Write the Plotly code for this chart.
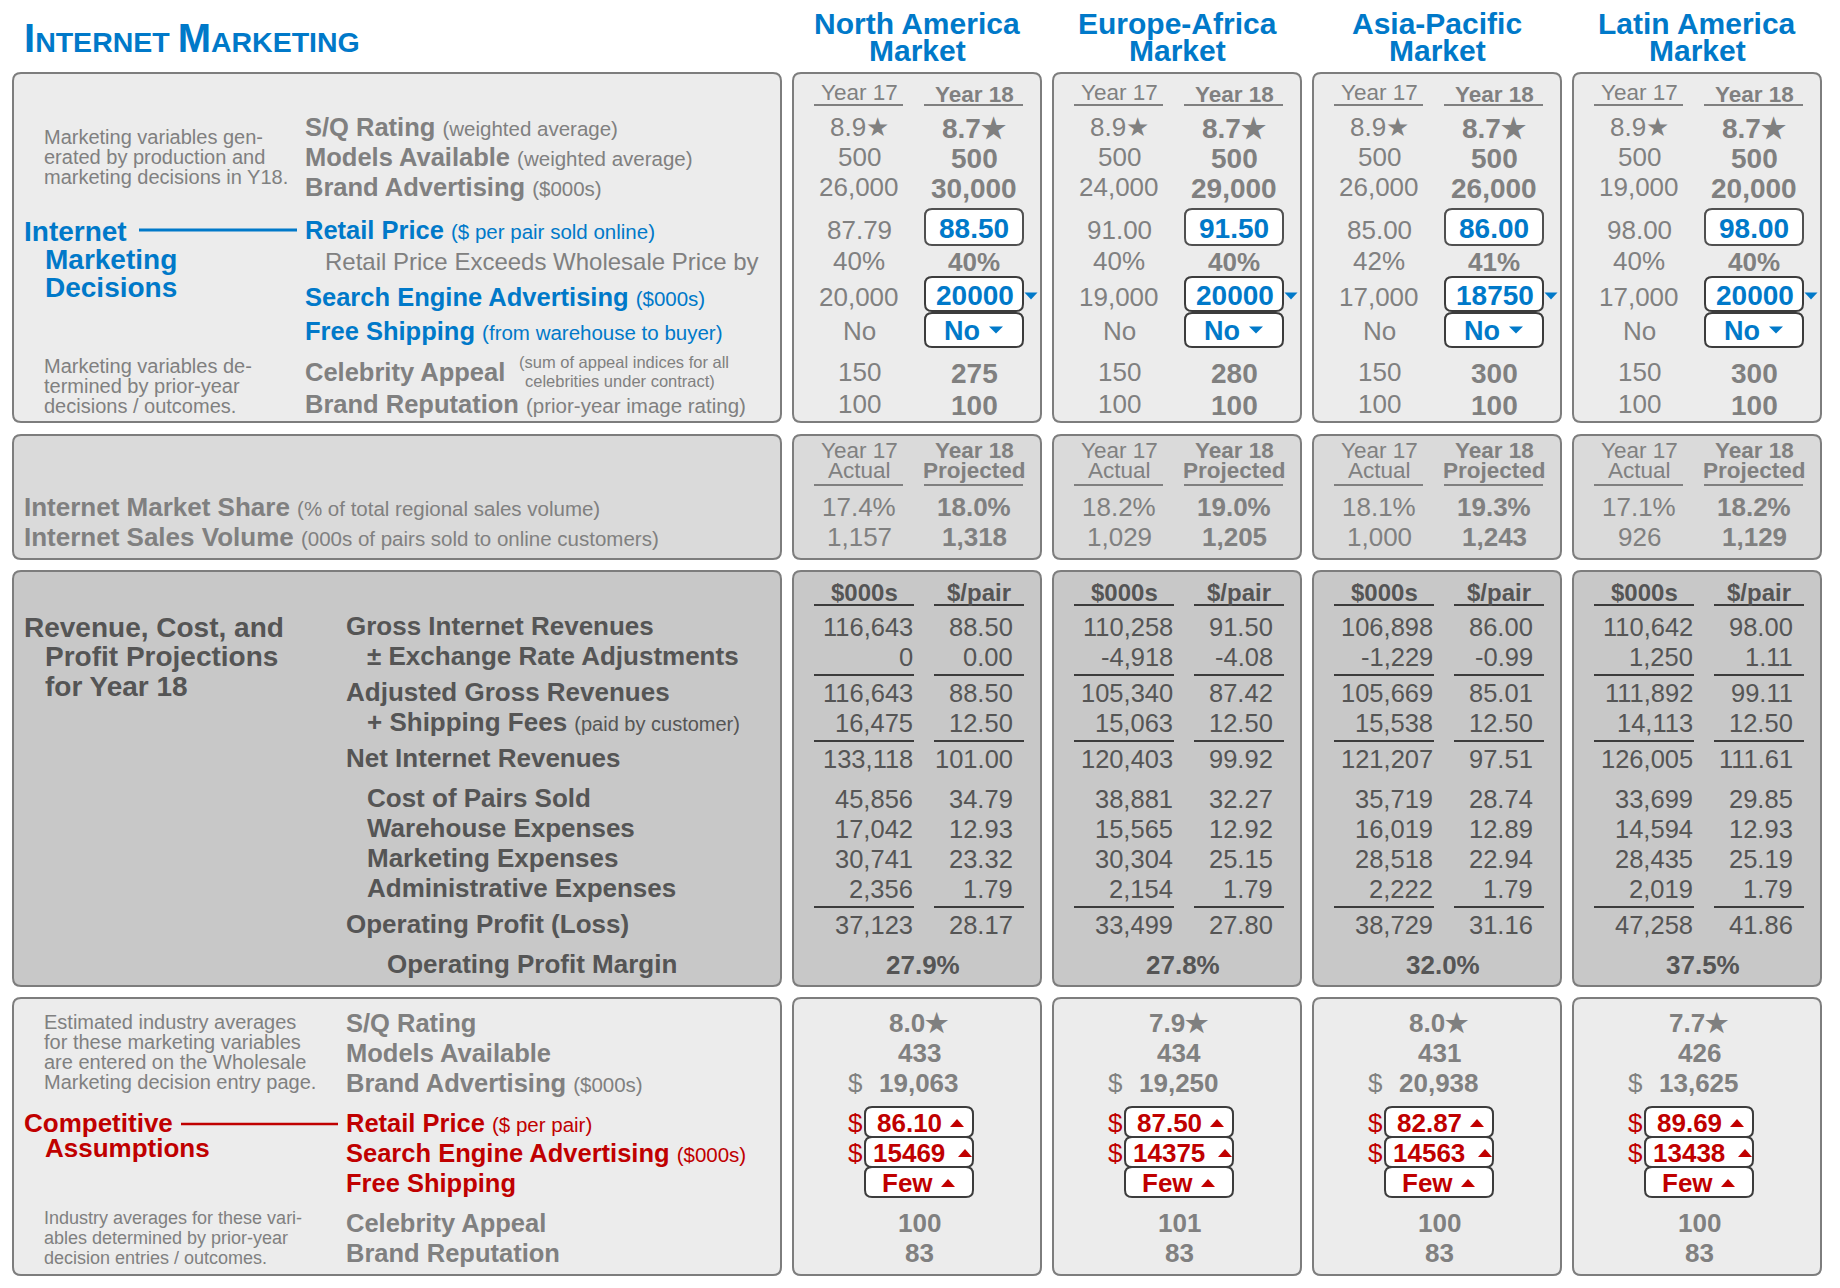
import plotly.graph_objects as go

# ---------------- data ----------------
markets = ["North America", "Europe-Africa", "Asia-Pacific", "Latin America"]

sq_rating_y17 = [8.9, 8.9, 8.9, 8.9]
sq_rating_y18 = [8.7, 8.7, 8.7, 8.7]
models_y17 = [500, 500, 500, 500]
models_y18 = [500, 500, 500, 500]
brand_adv_y17 = [26000, 24000, 26000, 19000]
brand_adv_y18 = [30000, 29000, 26000, 20000]
retail_price_y17 = [87.79, 91.00, 85.00, 98.00]
retail_price_y18 = [88.50, 91.50, 86.00, 98.00]
markup_y17 = [40, 40, 42, 40]
markup_y18 = [40, 40, 41, 40]
search_adv_y17 = [20000, 19000, 17000, 17000]
search_adv_y18 = [20000, 20000, 18750, 20000]
free_ship_y17 = ["No", "No", "No", "No"]
free_ship_y18 = ["No", "No", "No", "No"]
celebrity_y17 = [150, 150, 150, 150]
celebrity_y18 = [275, 280, 300, 300]
reputation_y17 = [100, 100, 100, 100]
reputation_y18 = [100, 100, 100, 100]

share_y17 = [17.4, 18.2, 18.1, 17.1]
share_y18 = [18.0, 19.0, 19.3, 18.2]
volume_y17 = [1157, 1029, 1000, 926]
volume_y18 = [1318, 1205, 1243, 1129]

pl_labels = ["Gross Internet Revenues", "± Exchange Rate Adjustments",
             "Adjusted Gross Revenues",
             "+ Shipping Fees <span style='font-size:20px;font-weight:normal'>(paid by customer)</span>",
             "Net Internet Revenues", "Cost of Pairs Sold", "Warehouse Expenses",
             "Marketing Expenses", "Administrative Expenses", "Operating Profit (Loss)"]
gross_k = [116643, 110258, 106898, 110642]
gross_p = [88.50, 91.50, 86.00, 98.00]
fx_k = [0, -4918, -1229, 1250]
fx_p = [0.00, -4.08, -0.99, 1.11]
adj_k = [116643, 105340, 105669, 111892]
adj_p = [88.50, 87.42, 85.01, 99.11]
shipfee_k = [16475, 15063, 15538, 14113]
shipfee_p = [12.50, 12.50, 12.50, 12.50]
net_k = [133118, 120403, 121207, 126005]
net_p = [101.00, 99.92, 97.51, 111.61]
cost_k = [45856, 38881, 35719, 33699]
cost_p = [34.79, 32.27, 28.74, 29.85]
warehouse_k = [17042, 15565, 16019, 14594]
warehouse_p = [12.93, 12.92, 12.89, 12.93]
marketing_k = [30741, 30304, 28518, 28435]
marketing_p = [23.32, 25.15, 22.94, 25.19]
admin_k = [2356, 2154, 2222, 2019]
admin_p = [1.79, 1.79, 1.79, 1.79]
profit_k = [37123, 33499, 38729, 47258]
profit_p = [28.17, 27.80, 31.16, 41.86]
profit_margin = [27.9, 27.8, 32.0, 37.5]

ind_sq = [8.0, 7.9, 8.0, 7.7]
ind_models = [433, 434, 431, 426]
ind_brand = [19063, 19250, 20938, 13625]
ind_price = [86.10, 87.50, 82.87, 89.69]
ind_search = [15469, 14375, 14563, 13438]
ind_ship = ["Few", "Few", "Few", "Few"]
ind_celebrity = [100, 101, 100, 100]
ind_reputation = [83, 83, 83, 83]

# ---------------- styling / layout ----------------
W, H = 1840, 1288
OFF = 8                                  # page body margin
FONT = "Liberation Sans, Arial, Helvetica, sans-serif"
GRAY = "rgb(128,128,128)"
DARK = "rgb(85,85,85)"
BLUE = "rgb(0,121,201)"
RED = "rgb(192,0,0)"
BORDER = "rgb(125,125,125)"

MX0, MSTEP, MW = 793, 260, 248          # market panels
LX0, LX1 = 13, 781                      # left label panels
P1, P2, P3, P4 = (73, 422), (435, 559), (571, 986), (998, 1275)

shapes, annots = [], []


def txt(x, y, s, size=25.5, color=GRAY, anchor="left", bold=False):
    if bold:
        s = "<b>%s</b>" % s
    annots.append(dict(x=x, y=y, xref="x", yref="y", text=s, showarrow=False,
                       xanchor=anchor, yanchor="middle",
                       font=dict(family=FONT, size=size, color=color)))


def rrect(x0, y0, x1, y1, r=8, fill="white", line=BORDER, lw=2):
    p = (f"M{x0+r},{y0} L{x1-r},{y0} Q{x1},{y0} {x1},{y0+r} L{x1},{y1-r} "
         f"Q{x1},{y1} {x1-r},{y1} L{x0+r},{y1} Q{x0},{y1} {x0},{y1-r} "
         f"L{x0},{y0+r} Q{x0},{y0} {x0+r},{y0} Z")
    shapes.append(dict(type="path", path=p, xref="x", yref="y", fillcolor=fill,
                       line=dict(color=line, width=lw), layer="below"))


def hline(x0, x1, y, color=GRAY, lw=2):
    shapes.append(dict(type="line", x0=x0, x1=x1, y0=y, y1=y, xref="x", yref="y",
                       line=dict(color=color, width=lw)))


def tri(xc, yc, w, h, color, up=True):
    if up:
        p = f"M{xc-w/2},{yc+h/2} L{xc+w/2},{yc+h/2} L{xc},{yc-h/2} Z"
    else:
        p = f"M{xc-w/2},{yc-h/2} L{xc+w/2},{yc-h/2} L{xc},{yc+h/2} Z"
    shapes.append(dict(type="path", path=p, xref="x", yref="y", fillcolor=color,
                       line=dict(width=0)))


def small(s, size=20.5):
    return f"<span style='font-size:{size}px;font-weight:normal'>{s}</span>"


def n0(v):
    return f"{v:,}"


def n2(v):
    return f"{v:.2f}"


# panel backgrounds
for (y0, y1), fill in zip([P1, P2, P3, P4], ["rgb(236,236,236)", "rgb(218,218,218)",
                                             "rgb(200,200,200)", "rgb(236,236,236)"]):
    rrect(LX0, y0, LX1, y1, fill=fill)
    for i in range(len(markets)):
        L = MX0 + i * MSTEP
        rrect(L, y0, L + MW, y1, fill=fill)

# title
txt(22, 38, "<b><span style='font-size:40px'>I</span>NTERNET "
    "<span style='font-size:40px'>M</span>ARKETING</b>", size=28.5, color=BLUE)

# ---------- panel 1 labels ----------
p1_y = [127, 157, 187, 230, 261, 297, 331, 372, 404]
LBX = 303
txt(LBX, p1_y[0], "<b>S/Q Rating</b> " + small("(weighted average)"))
txt(LBX, p1_y[1], "<b>Models Available</b> " + small("(weighted average)"))
txt(LBX, p1_y[2], "<b>Brand Advertising</b> " + small("($000s)"))
txt(LBX, p1_y[3], "<b>Retail Price</b> " + small("($ per pair sold online)"), color=BLUE)
txt(LBX + 20, p1_y[4], "Retail Price Exceeds Wholesale Price by", size=24)
txt(LBX, p1_y[5], "<b>Search Engine Advertising</b> " + small("($000s)"), color=BLUE)
txt(LBX, p1_y[6], "<b>Free Shipping</b> " + small("(from warehouse to buyer)"), color=BLUE)
txt(LBX, p1_y[7], "Celebrity Appeal", bold=True)
txt(517, 362, "(sum of appeal indices for all", size=16.5)
txt(523, 380.5, "celebrities under contract)", size=16.5)
txt(LBX, p1_y[8], "<b>Brand Reputation</b> " + small("(prior-year image rating)"))

for k, s in enumerate(["Marketing variables gen-", "erated by production and",
                       "marketing decisions in Y18."]):
    txt(42, 137 + 20 * k, s, size=20)
for k, s in enumerate(["Marketing variables de-", "termined by prior-year",
                       "decisions / outcomes."]):
    txt(42, 366 + 20 * k, s, size=20)
for k, s in enumerate(["Internet", "Marketing", "Decisions"]):
    txt(22 if k == 0 else 43, 231 + 28 * k, s, size=28, color=BLUE, bold=True)
hline(139, 297, 230, color=BLUE, lw=3)

# ---------- panel 2 labels ----------
txt(22, 507, "<b>Internet Market Share</b> " + small("(% of total regional sales volume)"), size=26)
txt(22, 537, "<b>Internet Sales Volume</b> " + small("(000s of pairs sold to online customers)"), size=26)

# ---------- panel 3 labels ----------
txt(22, 627, "Revenue, Cost, and", size=28, color=DARK, bold=True)
txt(43, 656, "Profit Projections", size=28, color=DARK, bold=True)
txt(43, 686, "for Year 18", size=28, color=DARK, bold=True)
p3_y = [626, 656, 692, 722, 758, 798, 828, 858, 888, 924]
p3_indent = [0, 1, 0, 1, 0, 1, 1, 1, 1, 0]
for lab, yy, ind in zip(pl_labels, p3_y, p3_indent):
    txt(344 + 21 * ind, yy, lab, size=26, color=DARK, bold=True)
txt(385, 964, "Operating Profit Margin", size=26, color=DARK, bold=True)

# ---------- panel 4 labels ----------
p4_y = [1023, 1053, 1083, 1123, 1153, 1183, 1223, 1253]
txt(344, p4_y[0], "S/Q Rating", bold=True)
txt(344, p4_y[1], "Models Available", bold=True)
txt(344, p4_y[2], "<b>Brand Advertising</b> " + small("($000s)"))
txt(344, p4_y[3], "<b>Retail Price</b> " + small("($ per pair)"), color=RED)
txt(344, p4_y[4], "<b>Search Engine Advertising</b> " + small("($000s)"), color=RED)
txt(344, p4_y[5], "Free Shipping", color=RED, bold=True)
txt(344, p4_y[6], "Celebrity Appeal", bold=True)
txt(344, p4_y[7], "Brand Reputation", bold=True)
for k, s in enumerate(["Estimated industry averages", "for these marketing variables",
                       "are entered on the Wholesale", "Marketing decision entry page."]):
    txt(42, 1022 + 20 * k, s, size=20)
for k, s in enumerate(["Industry averages for these vari-", "ables determined by prior-year",
                       "decision entries / outcomes."]):
    txt(42, 1218 + 20 * k, s, size=18)
txt(22, 1123, "Competitive", size=26, color=RED, bold=True)
txt(43, 1148, "Assumptions", size=26, color=RED, bold=True)
hline(181, 338, 1124, color=RED, lw=2.5)

# ---------- market columns ----------
for i, m in enumerate(markets):
    L = MX0 + i * MSTEP
    ctr = L + 124
    txt(ctr, 23, m, size=30, color=BLUE, anchor="center", bold=True)
    txt(ctr, 50, "Market", size=30, color=BLUE, anchor="center", bold=True)

    # panel 1
    c17, c18 = L + 66, L + 181
    txt(c17, 92, "Year 17", size=22.5, anchor="center")
    txt(c18, 94, "Year 18", size=22.5, anchor="center", bold=True)
    hline(L + 21, L + 110, 105)
    hline(L + 131, L + 230, 105)
    col17 = [f"{sq_rating_y17[i]:.1f}★", n0(models_y17[i]), n0(brand_adv_y17[i]),
             n2(retail_price_y17[i]), f"{markup_y17[i]}%", n0(search_adv_y17[i]),
             free_ship_y17[i], n0(celebrity_y17[i]), n0(reputation_y17[i])]
    col18 = [f"{sq_rating_y18[i]:.1f}★", n0(models_y18[i]), n0(brand_adv_y18[i]),
             None, f"{markup_y18[i]}%", None, None,
             n0(celebrity_y18[i]), n0(reputation_y18[i])]
    for yy, a, b in zip(p1_y, col17, col18):
        txt(c17, yy, a, size=26, anchor="center")
        if b is not None:
            txt(c18, yy + 1, b, size=28 if yy != 261 else 26, anchor="center", bold=True)
    # input boxes
    rrect(L + 132, 209, L + 230, 245, r=7, line="rgb(80,80,80)")
    txt(c18, 228, n2(retail_price_y18[i]), size=28, color=BLUE, anchor="center", bold=True)
    rrect(L + 132, 277, L + 230, 311, r=7, line="rgb(60,60,60)")
    txt(c18 + 1, 295, str(search_adv_y18[i]), size=28, color=BLUE, anchor="center", bold=True)
    tri(L + 238, 296, 13, 7, BLUE, up=False)
    rrect(L + 132, 313, L + 230, 347, r=7, line="rgb(60,60,60)")
    txt(L + 169, 331, free_ship_y18[i], size=27, color=BLUE, anchor="center", bold=True)
    tri(L + 203, 330, 14, 7, BLUE, up=False)

    # panel 2
    txt(c17, 450, "Year 17", size=22.5, anchor="center")
    txt(c17, 470, "Actual", size=22.5, anchor="center")
    txt(c18, 450, "Year 18", size=22.5, anchor="center", bold=True)
    txt(c18, 470, "Projected", size=22.5, anchor="center", bold=True)
    hline(L + 21, L + 110, 485)
    hline(L + 131, L + 230, 485)
    txt(c17, 507, f"{share_y17[i]:.1f}%", size=26, anchor="center")
    txt(c18, 507, f"{share_y18[i]:.1f}%", size=26, anchor="center", bold=True)
    txt(c17, 537, n0(volume_y17[i]), size=26, anchor="center")
    txt(c18, 537, n0(volume_y18[i]), size=26, anchor="center", bold=True)

    # panel 3
    txt(L + 71, 592, "$000s", size=24, color=DARK, anchor="center", bold=True)
    txt(L + 186, 592, "$/pair", size=24, color=DARK, anchor="center", bold=True)
    for yy in [605, 675, 741, 907]:
        hline(L + 21, L + 121, yy, color="rgb(60,60,60)")
        hline(L + 141, L + 231, yy, color="rgb(60,60,60)")
    ks = [gross_k, fx_k, adj_k, shipfee_k, net_k, cost_k, warehouse_k,
          marketing_k, admin_k, profit_k]
    ps = [gross_p, fx_p, adj_p, shipfee_p, net_p, cost_p, warehouse_p,
          marketing_p, admin_p, profit_p]
    for yy, kk, pp in zip(p3_y, ks, ps):
        txt(L + 122, yy + 1, n0(kk[i]), size=25.5, color=DARK, anchor="right")
        txt(L + 222, yy + 1, n2(pp[i]), size=25.5, color=DARK, anchor="right")
    txt(L + 130, 965, f"{profit_margin[i]:.1f}%", size=26, color=DARK, anchor="center", bold=True)

    # panel 4
    c4 = L + 126
    txt(c4, p4_y[0], f"{ind_sq[i]:.1f}★", size=26, anchor="center", bold=True)
    txt(c4, p4_y[1], n0(ind_models[i]), size=26, anchor="center", bold=True)
    txt(L + 62, p4_y[2], "$", size=26, anchor="center")
    txt(c4, p4_y[2], n0(ind_brand[i]), size=26, anchor="center", bold=True)
    for k, (yy, val) in enumerate(zip(p4_y[3:6], [n2(ind_price[i]), str(ind_search[i]),
                                                  ind_ship[i]])):
        rrect(L + 72, yy - 16, L + 180, yy + 14, r=7, line="rgb(60,60,60)")
        if k < 2:
            txt(L + 62, yy, "$", size=26, color=RED, anchor="center")
        txt(L + 116 if k < 2 else L + 114, yy, val, size=26, color=RED,
            anchor="center", bold=True)
        tri([L + 164, L + 172, L + 155][k], yy, 14, 8, RED, up=True)
    txt(c4, p4_y[6], n0(ind_celebrity[i]), size=26, anchor="center", bold=True)
    txt(c4, p4_y[7], n0(ind_reputation[i]), size=26, anchor="center", bold=True)

fig = go.Figure()
fig.add_trace(go.Scatter(x=[OFF, W], y=[OFF, H], mode="markers", marker=dict(opacity=0),
                         hoverinfo="skip", showlegend=False))
fig.update_layout(width=W - OFF, height=H - OFF, margin=dict(l=0, r=0, t=0, b=0),
                  paper_bgcolor="white", plot_bgcolor="white",
                  shapes=shapes, annotations=annots, showlegend=False,
                  xaxis=dict(range=[OFF, W], visible=False, fixedrange=True),
                  yaxis=dict(range=[H, OFF], visible=False, fixedrange=True))
fig.write_html("out.html")
